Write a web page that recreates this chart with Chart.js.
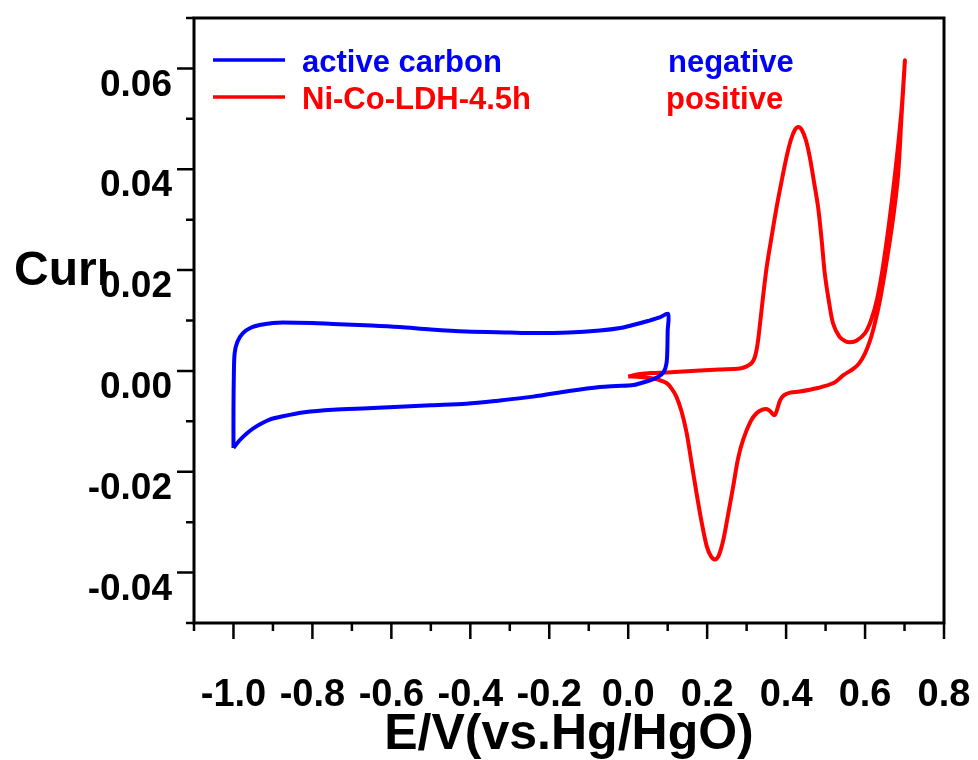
<!DOCTYPE html>
<html>
<head>
<meta charset="utf-8">
<script src="https://cdn.jsdelivr.net/npm/chart.js@4.4.1/dist/chart.umd.min.js"></script>
<style>
  body { margin: 0; background: #fff; }
  #wrap { width: 978px; height: 760px; }
</style>
</head>
<body>
<div id="wrap"><canvas id="cv"></canvas></div>
<script>
// active carbon, scan -1.0 -> 0.1 -> -1.0 V
const carbonE = [-1.000, -1.000, -0.999, -0.997, -0.990, -0.976, -0.955, -0.934, -0.900, -0.875, -0.80, -0.748, -0.65, -0.579, -0.50, -0.41, -0.30, -0.241, -0.15, -0.072, -0.02, 0.012, 0.05, 0.08, 0.101,
  0.100, 0.099, 0.097, 0.090, 0.075, 0.046, 0.013, -0.030, -0.072, -0.15, -0.241, -0.33, -0.41, -0.50, -0.579, -0.66, -0.748, -0.82, -0.875, -0.91, -0.942, -0.965, -0.985, -1.000];
const carbonI = [-0.0153, -0.0080, -0.0005, 0.0035, 0.0058, 0.0075, 0.0086, 0.0091, 0.0095, 0.0096, 0.0095, 0.0093, 0.0090, 0.0087, 0.0082, 0.0078, 0.0076, 0.0075, 0.0076, 0.0080, 0.0085, 0.0091, 0.0099, 0.0106, 0.0113,
  0.0080, 0.0040, 0.0015, -0.0002, -0.0012, -0.0021, -0.0028, -0.0030, -0.0032, -0.0040, -0.0051, -0.0059, -0.0065, -0.0068, -0.0071, -0.0074, -0.0077, -0.0082, -0.0090, -0.0097, -0.0110, -0.0123, -0.0138, -0.0153];

// Ni-Co-LDH-4.5h, scan 0.0 -> 0.7 -> 0.0 V
const ldhE = [0.000, 0.030, 0.060, 0.097, 0.140, 0.182, 0.230, 0.283, 0.300, 0.313, 0.321, 0.328, 0.334, 0.342, 0.351, 0.363, 0.376, 0.389, 0.401, 0.412, 0.422, 0.431, 0.440, 0.450, 0.460, 0.470, 0.481, 0.490, 0.498, 0.508, 0.519, 0.535, 0.550, 0.562, 0.578, 0.600, 0.615, 0.630, 0.643, 0.655, 0.666, 0.676, 0.685, 0.693, 0.701,
  0.692, 0.684, 0.674, 0.663, 0.650, 0.638, 0.625, 0.613, 0.600, 0.585, 0.570, 0.546, 0.520, 0.480, 0.435, 0.410, 0.395, 0.385, 0.378, 0.372, 0.367, 0.360, 0.352, 0.340, 0.325, 0.310, 0.291, 0.278, 0.266, 0.253, 0.241, 0.230, 0.220, 0.210, 0.199, 0.186, 0.173, 0.160, 0.148, 0.135, 0.122, 0.110, 0.097, 0.075, 0.055, 0.030, 0.000];
const ldhI = [-0.0011, -0.0006, -0.0004, -0.0003, -0.0001, 0.0001, 0.0003, 0.0005, 0.0009, 0.0016, 0.0028, 0.0055, 0.0094, 0.0150, 0.0207, 0.0265, 0.0325, 0.0378, 0.0424, 0.0458, 0.0478, 0.0484, 0.0478, 0.0458, 0.0424, 0.0378, 0.0325, 0.0260, 0.0193, 0.0140, 0.0094, 0.0068, 0.0059, 0.0057, 0.0060, 0.0075, 0.0100, 0.0141, 0.0195, 0.0259, 0.0325, 0.0391, 0.0457, 0.0523, 0.0616,
  0.0500, 0.0391, 0.0320, 0.0259, 0.0195, 0.0141, 0.0095, 0.0061, 0.0035, 0.0015, 0.0004, -0.0008, -0.0024, -0.0034, -0.0041, -0.0043, -0.0048, -0.0058, -0.0075, -0.0087, -0.0086, -0.0080, -0.0076, -0.0077, -0.0084, -0.0100, -0.0137, -0.0175, -0.0229, -0.0285, -0.0335, -0.0365, -0.0374, -0.0368, -0.0348, -0.0300, -0.0242, -0.0180, -0.0123, -0.0080, -0.0051, -0.0035, -0.0024, -0.0017, -0.0014, -0.0012, -0.0011];

const xTicks = [-1.0, -0.8, -0.6, -0.4, -0.2, 0.0, 0.2, 0.4, 0.6, 0.8];
const xMinor = [-1.1, -0.9, -0.7, -0.5, -0.3, -0.1, 0.1, 0.3, 0.5, 0.7];
const yTicks = [-0.04, -0.02, 0.00, 0.02, 0.04, 0.06];
const yMinor = [-0.05, -0.03, -0.01, 0.01, 0.03, 0.05, 0.07];

const legendItems = [
  { label: 'active carbon', note: 'negative', color: '#0000ff' },
  { label: 'Ni-Co-LDH-4.5h', note: 'positive', color: '#ff0000' }
];

function pts(xs, ys) {
  return xs.map((x, i) => ({ x: x, y: ys[i] }));
}

// frame, tick marks, legend and the clipped y title
const decor = {
  id: 'decor',
  afterDraw(chart) {
    const c = chart.ctx;
    const a = chart.chartArea;
    const sx = chart.scales.x, sy = chart.scales.y;
    c.save();
    c.strokeStyle = '#000';
    c.lineWidth = 2.5;
    c.beginPath();
    xTicks.forEach(v => { const p = sx.getPixelForValue(v); c.moveTo(p, a.bottom); c.lineTo(p, a.bottom + 16); });
    xMinor.forEach(v => { const p = sx.getPixelForValue(v); c.moveTo(p, a.bottom); c.lineTo(p, a.bottom + 8); });
    yTicks.forEach(v => { const p = sy.getPixelForValue(v); c.moveTo(a.left, p); c.lineTo(a.left - 17, p); });
    yMinor.forEach(v => { const p = sy.getPixelForValue(v); c.moveTo(a.left, p); c.lineTo(a.left - 8, p); });
    c.stroke();
    c.lineWidth = 3;
    c.strokeRect(a.left, a.top, a.right - a.left, a.bottom - a.top);

    c.font = 'bold 31px "Liberation Sans", Arial, sans-serif';
    c.textBaseline = 'middle';
    legendItems.forEach((it, i) => {
      const y = 61 + i * 37;
      c.strokeStyle = it.color;
      c.fillStyle = it.color;
      c.lineWidth = 3.5;
      c.beginPath();
      c.moveTo(213, y - 1);
      c.lineTo(285, y - 1);
      c.stroke();
      c.fillText(it.label, 302, y + 2);
      c.fillText(it.note, 668 - i * 2, y + 2);
    });

    c.beginPath();
    c.rect(0, 200, 106, 120);
    c.clip();
    c.fillStyle = '#000';
    c.font = 'bold 48px "Liberation Sans", Arial, sans-serif';
    c.textBaseline = 'alphabetic';
    c.fillText('Current/A', 14, 285);
    c.restore();
  }
};

const ctx = document.getElementById('cv').getContext('2d');

new Chart(ctx, {
  type: 'scatter',
  data: {
    datasets: [{
      label: 'active carbon',
      data: pts(carbonE, carbonI),
      showLine: true,
      borderColor: '#0000ff',
      borderWidth: 4,
      pointRadius: 0,
      tension: 0.3
    }, {
      label: 'Ni-Co-LDH-4.5h',
      data: pts(ldhE, ldhI),
      showLine: true,
      borderColor: '#ff0000',
      borderWidth: 4,
      pointRadius: 0,
      tension: 0.3
    }]
  },
  options: {
    responsive: true,
    maintainAspectRatio: false,
    animation: false,
    layout: { padding: { top: 18, right: 34, left: 0, bottom: 0 } },
    plugins: {
      legend: { display: false },
      tooltip: { enabled: false }
    },
    scales: {
      x: {
        type: 'linear',
        min: -1.1,
        max: 0.8,
        afterBuildTicks: s => { s.ticks = xTicks.map(v => ({ value: v })); },
        afterFit: s => { s.height = 137; s.paddingLeft = 0; s.paddingRight = 0; },
        grid: { display: false, drawTicks: false },
        border: { display: false },
        ticks: {
          autoSkip: false,
          maxRotation: 0,
          padding: 50,
          color: '#000',
          font: { family: '"Liberation Sans", Arial', weight: 'bold', size: 38 },
          callback: v => v.toFixed(1)
        },
        title: {
          display: true,
          text: 'E/V(vs.Hg/HgO)',
          color: '#000',
          padding: { top: 0, bottom: -5 },
          font: { family: '"Liberation Sans", Arial', weight: 'bold', size: 50 }
        }
      },
      y: {
        type: 'linear',
        min: -0.05,
        max: 0.07,
        afterBuildTicks: s => { s.ticks = yTicks.map(v => ({ value: v })); },
        afterFit: s => { s.width = 194; s.paddingTop = 0; s.paddingBottom = 0; },
        grid: { display: false, drawTicks: false },
        border: { display: false },
        ticks: {
          padding: 22,
          labelOffset: 17,
          color: '#000',
          font: { family: '"Liberation Sans", Arial', weight: 'bold', size: 37 },
          callback: v => v.toFixed(2)
        }
      }
    }
  },
  plugins: [decor]
});
</script>
</body>
</html>
